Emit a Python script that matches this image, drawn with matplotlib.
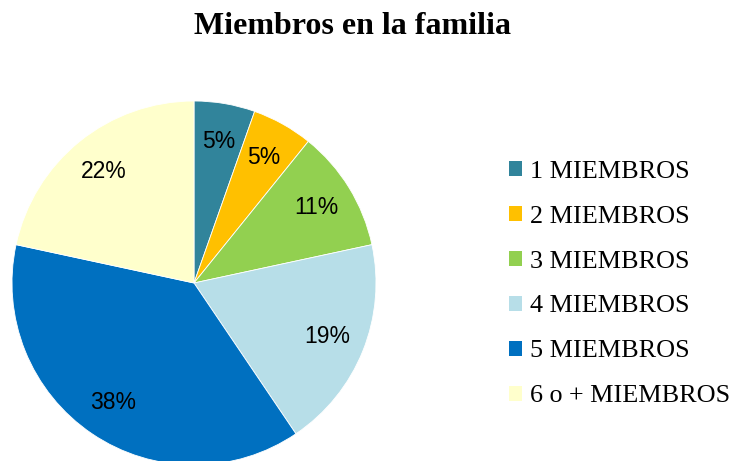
import matplotlib
matplotlib.use("Agg")
import matplotlib.pyplot as plt
from matplotlib.patches import Patch

categories = ["1 MIEMBROS", "2 MIEMBROS", "3 MIEMBROS", "4 MIEMBROS", "5 MIEMBROS", "6 o + MIEMBROS"]
shares = [5.4, 5.4, 10.8, 18.9, 37.8, 21.6]
colors = ["#31849B", "#FFC000", "#92D050", "#B7DEE8", "#0070C0", "#FFFFCC"]
title = "Miembros en la familia"

W, H = 733, 461
fig = plt.figure(figsize=(W / 100, H / 100), dpi=100)

# pie centre ~(194, 283) px, radius ~182 px (bottom slightly clipped)
cx, cy, r = 194, 283, 182
ax = fig.add_axes([(cx - r) / W, (H - cy - r) / H, 2 * r / W, 2 * r / H])
wedges, _, autotexts = ax.pie(
    shares, colors=colors, startangle=90, counterclock=False,
    autopct="%.0f%%", pctdistance=0.79,
    wedgeprops=dict(edgecolor="white", linewidth=0.6),
    textprops=dict(family="Liberation Sans", fontsize=16.5, color="black"),
)
ax.set_xlim(-1, 1)
ax.set_ylim(-1, 1)
ax.set_aspect("equal")
ax.axis("off")

fig.text(353 / W, 1 - 27 / H, title, ha="center", va="center",
         family="Liberation Serif", fontweight="bold", fontsize=23)

handles = [Patch(facecolor=c, edgecolor="none") for c in colors]
fig.legend(handles, categories, loc="center left", bbox_to_anchor=(509 / W, 1 - 284 / H),
           frameon=False, borderpad=0, borderaxespad=0, handlelength=0.5, handleheight=0.5,
           handletextpad=0.3, labelspacing=0.88,
           prop=dict(family="Liberation Serif", size=18.8))

fig.savefig("out.png", dpi=100)
